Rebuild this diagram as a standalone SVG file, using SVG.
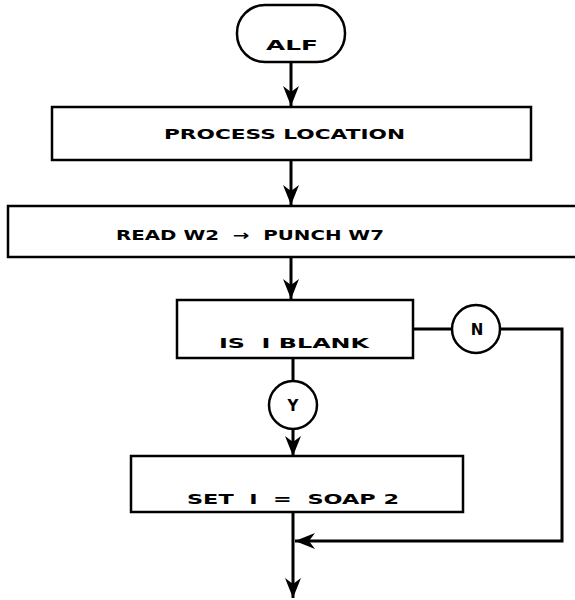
<svg xmlns="http://www.w3.org/2000/svg" width="575" height="600" viewBox="0 0 575 600">
<defs>
<marker id="ah" viewBox="0 0 20 16" refX="20" refY="8" markerWidth="20" markerHeight="16" markerUnits="userSpaceOnUse" orient="auto">
<path d="M0,0 L20,8 L0,16 L6,8 Z" fill="#000"/>
</marker>
</defs>
<style>
.box{fill:#fff;stroke:#000;stroke-width:2.5}
.ln{fill:none;stroke:#000;stroke-width:3}
.t{font-family:"DejaVu Sans",sans-serif;font-weight:bold;font-size:14px;fill:#000;white-space:pre}
.c{text-anchor:middle;font-size:15px}
</style>
<g id="connectors">
<line class="ln" x1="291" y1="62" x2="291" y2="106" marker-end="url(#ah)"/>
<line class="ln" x1="291" y1="160" x2="291" y2="205" marker-end="url(#ah)"/>
<line class="ln" x1="291" y1="258" x2="291" y2="299" marker-end="url(#ah)"/>
<line class="ln" x1="413" y1="329" x2="452" y2="329"/>
<polyline class="ln" points="501,329 562,329 562,541 295,541" marker-end="url(#ah)"/>
<line class="ln" x1="293" y1="358" x2="293" y2="381"/>
<line class="ln" x1="293" y1="428" x2="293" y2="456" marker-end="url(#ah)"/>
<line class="ln" x1="293" y1="512" x2="293" y2="598" marker-end="url(#ah)"/>
</g>
<g id="alf">
<rect class="box" x="237" y="5" width="108" height="57" rx="28" ry="28"/>
<text class="t" x="266" y="50" textLength="52" lengthAdjust="spacingAndGlyphs">ALF</text>
</g>
<g id="process">
<rect class="box" x="52" y="107" width="479" height="53"/>
<text class="t" x="164" y="139" textLength="241" lengthAdjust="spacingAndGlyphs">PROCESS LOCATION</text>
</g>
<g id="read">
<rect class="box" x="8" y="206" width="580" height="51"/>
<text class="t" x="116" y="240" textLength="268" lengthAdjust="spacingAndGlyphs">READ W2  →  PUNCH W7</text>
</g>
<g id="isblank">
<rect class="box" x="177" y="300" width="236" height="58"/>
<text class="t" x="219" y="348" textLength="150" lengthAdjust="spacingAndGlyphs">IS  I BLANK</text>
</g>
<g id="n">
<circle class="box" cx="476" cy="329" r="24"/>
<text class="t c" x="477" y="335">N</text>
</g>
<g id="y">
<circle class="box" cx="293" cy="405" r="24"/>
<text class="t c" x="293" y="411">Y</text>
</g>
<g id="set">
<rect class="box" x="131" y="456" width="332" height="56"/>
<text class="t" x="187" y="504" textLength="212" lengthAdjust="spacingAndGlyphs">SET  I  =  SOAP 2</text>
</g>
</svg>
